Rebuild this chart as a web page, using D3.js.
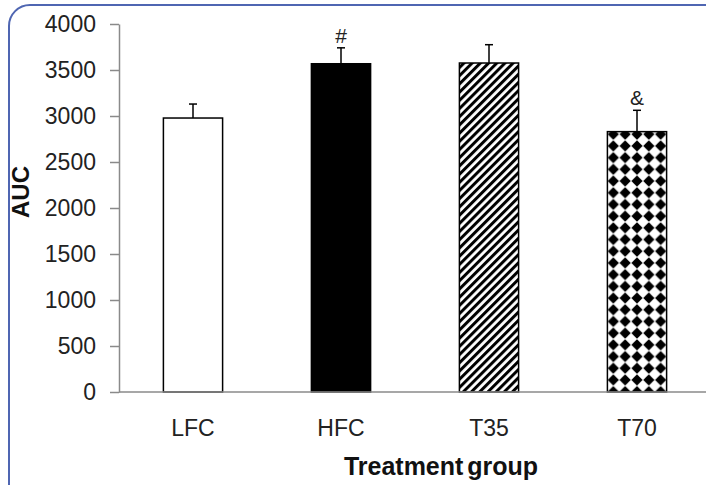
<!DOCTYPE html>
<html>
<head>
<meta charset="utf-8">
<script src="https://cdn.jsdelivr.net/npm/d3@7"></script>
<style>
  body { margin: 0; background: #fff; }
  text { font-family: Arial, "Liberation Sans", sans-serif; }
</style>
</head>
<body>
<svg id="chart" width="706" height="485"></svg>
<script>
// Data
const groups = ["LFC", "HFC", "T35", "T70"];
const auc = [2978, 3568, 3576, 2830];
const aucErr = [152, 173, 199, 232];
const marks = ["", "#", "", "&"];
const yTicks = [0, 500, 1000, 1500, 2000, 2500, 3000, 3500, 4000];

const svg = d3.select("#chart");

// rounded blue frame (runs off right and bottom of the picture)
svg.append("rect")
    .attr("x", 9).attr("y", 5)
    .attr("width", 730).attr("height", 540)
    .attr("rx", 21)
    .attr("fill", "#fff")
    .attr("stroke", "#4f66b2")
    .attr("stroke-width", 2);

const y = d3.scaleLinear().domain([0, 4000]).range([392, 24]);
const x = d3.scaleBand().domain(groups).range([119, 711])
    .paddingInner(0.6).paddingOuter(0.3);

// patterns
const defs = svg.append("defs");
const hatch = defs.append("pattern")
    .attr("id", "hatch")
    .attr("patternUnits", "userSpaceOnUse")
    .attr("width", 5.8).attr("height", 5.8)
    .attr("patternTransform", "rotate(45)");
hatch.append("rect").attr("width", 5.8).attr("height", 5.8).attr("fill", "#fff");
hatch.append("rect").attr("width", 3).attr("height", 5.8).attr("fill", "#000");

const tileW = x.bandwidth() / 5, tileH = 11.7;
const dots = defs.append("pattern")
    .attr("id", "dots")
    .attr("patternUnits", "userSpaceOnUse")
    .attr("x", x("T70"))
    .attr("y", y(auc[3]) - tileH / 2 + 2.6)
    .attr("width", tileW).attr("height", tileH);
dots.append("rect").attr("width", tileW).attr("height", tileH).attr("fill", "#fff");
dots.append("path")
    .attr("d", `M${tileW / 2},0.3 L${tileW - 0.3},${tileH / 2} L${tileW / 2},${tileH - 0.3} L0.3,${tileH / 2} Z`)
    .attr("fill", "#000");

const fills = ["#fff", "#000", "url(#hatch)", "url(#dots)"];

// y axis
const yAxis = svg.append("g")
    .attr("transform", `translate(${x.range()[0]},0)`)
    .call(d3.axisLeft(y).tickValues(yTicks).tickFormat(d3.format("d"))
        .tickSize(9).tickPadding(14).tickSizeOuter(0));
yAxis.select(".domain").attr("stroke", "#8a8a8a").attr("stroke-width", 1.5);
yAxis.selectAll(".tick line").attr("stroke", "#8a8a8a").attr("stroke-width", 1.5);
yAxis.selectAll(".tick text")
    .attr("font-size", 23)
    .attr("fill", "#222")
    .style("font-family", "Arial, 'Liberation Sans', sans-serif");

// bars
svg.selectAll(".bar")
    .data(groups)
    .enter().append("rect")
    .attr("class", "bar")
    .attr("x", d => x(d))
    .attr("y", (d, i) => y(auc[i]))
    .attr("width", x.bandwidth())
    .attr("height", (d, i) => y(0) - y(auc[i]))
    .attr("fill", (d, i) => fills[i])
    .attr("stroke", "#000")
    .attr("stroke-width", 1.5);

// error bars
const err = svg.selectAll(".err")
    .data(groups)
    .enter().append("g")
    .attr("class", "err");
err.append("line")
    .attr("x1", d => x(d) + x.bandwidth() / 2)
    .attr("x2", d => x(d) + x.bandwidth() / 2)
    .attr("y1", (d, i) => y(auc[i]))
    .attr("y2", (d, i) => y(auc[i] + aucErr[i]))
    .attr("stroke", "#000").attr("stroke-width", 1.5);
err.append("line")
    .attr("x1", d => x(d) + x.bandwidth() / 2 - 4)
    .attr("x2", d => x(d) + x.bandwidth() / 2 + 4)
    .attr("y1", (d, i) => y(auc[i] + aucErr[i]))
    .attr("y2", (d, i) => y(auc[i] + aucErr[i]))
    .attr("stroke", "#000").attr("stroke-width", 1.5);

// significance marks
svg.selectAll(".mark")
    .data(groups)
    .enter().append("text")
    .attr("class", "mark")
    .attr("x", d => x(d) + x.bandwidth() / 2)
    .attr("y", (d, i) => y(auc[i] + aucErr[i]) - 5)
    .attr("text-anchor", "middle")
    .attr("font-size", 21)
    .attr("fill", "#222")
    .text((d, i) => marks[i]);

// x axis line
svg.append("line")
    .attr("x1", x.range()[0]).attr("x2", 706)
    .attr("y1", y(0)).attr("y2", y(0))
    .attr("stroke", "#8a8a8a").attr("stroke-width", 1.5);

// category labels
svg.selectAll(".cat")
    .data(groups)
    .enter().append("text")
    .attr("class", "cat")
    .attr("x", d => x(d) + x.bandwidth() / 2)
    .attr("y", 436)
    .attr("text-anchor", "middle")
    .attr("font-size", 23)
    .attr("fill", "#222")
    .text(d => d);

// axis titles
svg.append("text")
    .attr("x", 441).attr("y", 475)
    .attr("text-anchor", "middle")
    .attr("font-size", 25)
    .attr("font-weight", "bold")
    .attr("word-spacing", -3)
    .attr("fill", "#111")
    .text("Treatment group");

svg.append("text")
    .attr("transform", "translate(29,192) rotate(-90)")
    .attr("text-anchor", "middle")
    .attr("font-size", 24)
    .attr("font-weight", "bold")
    .attr("fill", "#111")
    .text("AUC");
</script>
</body>
</html>
